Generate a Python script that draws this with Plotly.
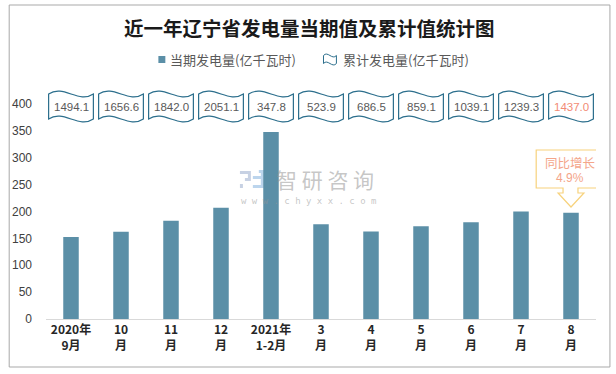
import re
import plotly.graph_objects as go

# ---------------- data ----------------
categories = ["2020年<br>9月", "10<br>月", "11<br>月", "12<br>月", "2021年<br>1-2月",
              "3<br>月", "4<br>月", "5<br>月", "6<br>月", "7<br>月", "8<br>月"]
current_values = [152.5, 162.5, 183.0, 207.0, 347.8, 176.1, 162.6, 172.6, 180.0, 200.2, 197.7]
cumulative_values = [1494.1, 1656.6, 1842.0, 2051.1, 347.8, 523.9, 686.5, 859.1, 1039.1, 1239.3, 1437.0]
y_ticks = [0, 50, 100, 150, 200, 250, 300, 350, 400]
yoy_label = "同比增长"
yoy_value = "4.9%"
title_text = "近一年辽宁省发电量当期值及累计值统计图"
legend_current = "当期发电量(亿千瓦时)"
legend_cum = "累计发电量(亿千瓦时)"

# ---------------- layout geometry ----------------
W, H = 616, 374
ML, MR, MT, MB = 43, 20, 104, 55
PW = W - ML - MR
PH = H - MT - MB
n = len(categories)
UNIT = PW / n

BAR_COLOR = "#5b8fa7"
WAVE_COLOR = "#2b6e8c"
TXT = "#595959"
HILITE = "#f28b74"
CALLOUT = "#f7d27c"
FONT = "Noto Sans CJK SC"


def xd(i, dpx=0.0):
    return i + dpx / UNIT


def xp(px):
    return (px - ML) / PW


def yp(py):
    return (H - MB - py) / PH


def wave_path(fx, fy, cx, half, top, bot, k):
    L, R = cx - half, cx + half
    w = R - L
    pts = [
        ("M", [(L, top)]),
        ("C", [(L + w / 3, top - k), (L + 2 * w / 3, top + k), (R, top)]),
        ("L", [(R, bot)]),
        ("C", [(R - w / 3, bot + k), (R - 2 * w / 3, bot - k), (L, bot)]),
    ]
    s = ""
    for cmd, ps in pts:
        s += cmd + " " + " ".join(f"{fx(x):.5f},{fy(y):.5f}" for x, y in ps) + " "
    return s + "Z"


def ann(**kw):
    d = dict(showarrow=False, xanchor="center", yanchor="middle")
    d.update(kw)
    return d


fig = go.Figure()
x_idx = list(range(n))
fig.add_trace(go.Bar(x=x_idx, y=current_values, width=0.31,
                     marker=dict(color=BAR_COLOR, line=dict(width=0)),
                     showlegend=False, hoverinfo="skip"))

shapes = []
annotations = []

# watermark
wm = "rgba(150,150,150,0.55)"
annotations.append(ann(xref="paper", yref="paper", x=xp(324), y=yp(178.5), text="智 研 咨 询",
                       font=dict(family=FONT, size=21, color=wm)))
annotations.append(ann(xref="paper", yref="paper", x=xp(307), y=yp(201), text="w w w . c h y x x . c o m",
                       font=dict(family="DejaVu Sans Mono", size=9, color=wm)))
logo_pts = [
    ("M 238,171 L 249,171 L 249,181 L 243,181 L 243,178 L 246,178 L 246,174 L 238,174 Z", "rgba(175,190,215,0.7)"),
    ("M 238,184 L 241,184 L 241,188 L 238,188 Z", "rgba(175,190,215,0.7)"),
    ("M 251,176 L 262,176 L 262,188 L 251,188 L 251,185 L 259,185 L 259,179 L 251,179 Z", "rgba(160,195,230,0.7)"),
    ("M 257,170 L 262,170 L 262,176 L 259,176 L 259,173 L 257,173 Z", "rgba(160,195,230,0.7)"),
]
for p, c in logo_pts:
    def conv(m):
        return f"{xp(float(m.group(1))):.5f},{yp(float(m.group(2))):.5f}"
    path = re.sub(r"([\d.]+),([\d.]+)", conv, p)
    shapes.append(dict(type="path", xref="paper", yref="paper", path=path,
                       fillcolor=c, line=dict(width=0), layer="below"))

# cumulative wave boxes
for i, v in enumerate(cumulative_values):
    path = wave_path(lambda dx, i=i: xd(i, dx), yp, 0.0, 22.5, 94, 119, 10)
    shapes.append(dict(type="path", xref="x", yref="paper", path=path,
                       line=dict(color=WAVE_COLOR, width=1.2), fillcolor="white"))
    annotations.append(ann(xref="x", yref="paper", x=i, y=yp(107), text=f"{v:.1f}",
                           font=dict(family="Liberation Sans", size=11.5,
                                     color=HILITE if i == n - 1 else TXT)))

# callout on last bar
last = n - 1
callout_px = [(-35, 150), (33, 150), (33, 188), (7, 188), (7, 193), (13, 193), (0, 207),
              (-13, 193), (-8, 193), (-8, 188), (-35, 188)]
cp = "M " + " L ".join(f"{xd(last, dx):.5f},{yp(py):.5f}" for dx, py in callout_px) + " Z"
shapes.append(dict(type="path", xref="x", yref="paper", path=cp,
                   line=dict(color=CALLOUT, width=1.2), fillcolor="white"))
annotations.append(ann(xref="x", yref="paper", x=xd(last, -1), y=yp(162), text=yoy_label,
                       font=dict(family=FONT, size=12.5, color="#f4a58a")))
annotations.append(ann(xref="x", yref="paper", x=xd(last, -1), y=yp(178), text=yoy_value,
                       font=dict(family="Liberation Sans", size=12, color="#f4a58a")))

# title
annotations.append(ann(xref="paper", yref="paper", x=xp(308), y=yp(28), text=f"<b>{title_text}</b>",
                       font=dict(family=FONT, size=19.5, color="#1a1a1a")))

# legend (manual)
shapes.append(dict(type="rect", xref="paper", yref="paper", x0=xp(156), x1=xp(163), y0=yp(56), y1=yp(63),
                   fillcolor=BAR_COLOR, line=dict(width=0)))
annotations.append(ann(xref="paper", yref="paper", x=xp(166), y=yp(59.5), text=legend_current, xanchor="left",
                       font=dict(family=FONT, size=13, color=TXT)))
shapes.append(dict(type="path", xref="paper", yref="paper",
                   path=wave_path(xp, yp, 328.5, 6.5, 55.5, 63.5, 5),
                   line=dict(color=WAVE_COLOR, width=1), fillcolor="white"))
annotations.append(ann(xref="paper", yref="paper", x=xp(340), y=yp(59.5), text=legend_cum, xanchor="left",
                       font=dict(family=FONT, size=13, color=TXT)))

# outer border
shapes.append(dict(type="rect", xref="paper", yref="paper", x0=xp(6), x1=xp(610), y0=yp(367), y1=yp(5),
                   line=dict(color="#a9a9a9", width=1), fillcolor="rgba(0,0,0,0)"))

fig.update_layout(
    width=W, height=H,
    margin=dict(l=ML, r=MR, t=MT, b=MB, pad=0),
    paper_bgcolor="white", plot_bgcolor="white",
    shapes=shapes, annotations=annotations,
    showlegend=False,
    xaxis=dict(range=[-0.5, n - 0.5], tickmode="array", tickvals=x_idx, ticktext=categories,
               showgrid=False, zeroline=False, showline=True, linecolor="#d9d9d9", linewidth=1,
               ticks="", tickfont=dict(family=FONT, size=12, color="#262626", weight="bold"),
               fixedrange=True),
    yaxis=dict(range=[0, 400], tickmode="array", tickvals=y_ticks, showgrid=False, zeroline=False,
               showline=False, ticks="", ticklabelstandoff=13,
               tickfont=dict(family="Liberation Sans", size=12, color="#404040"), fixedrange=True),
    bargap=0.7,
)
fig.write_html("out.html", config={"displayModeBar": False},
               post_script="document.body.style.margin='0';document.body.style.padding='0';")
